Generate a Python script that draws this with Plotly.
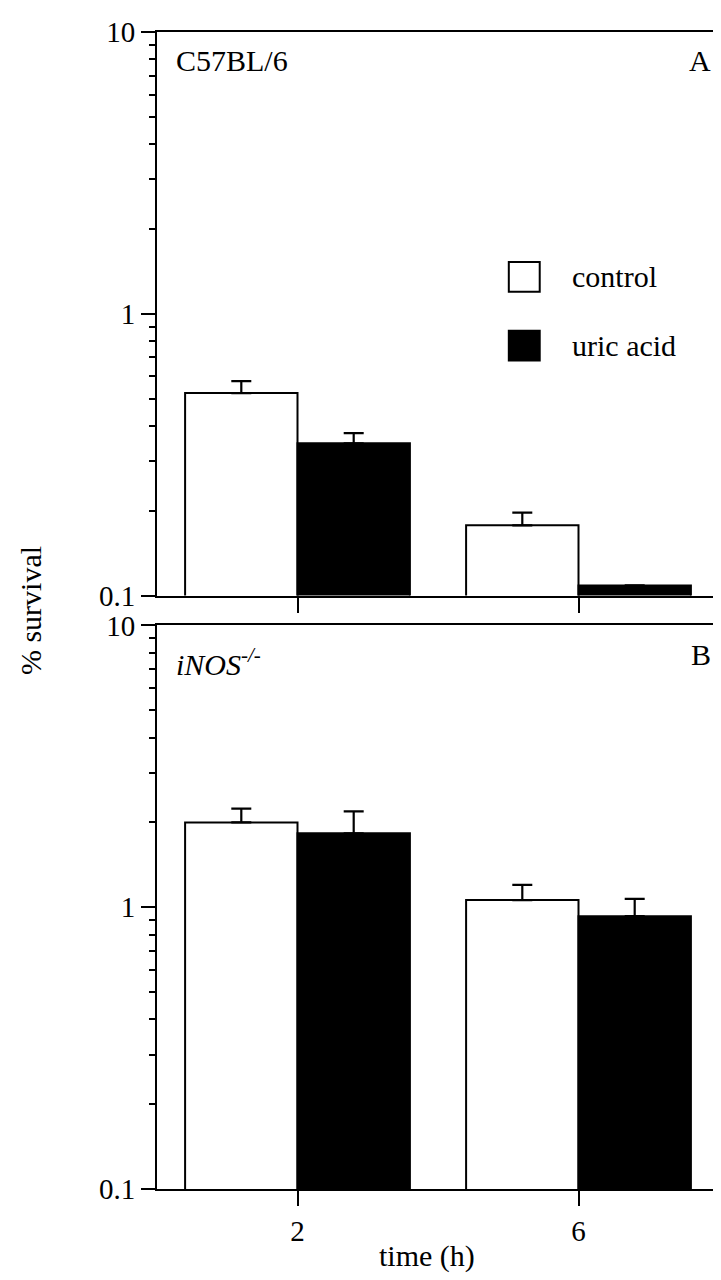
import plotly.graph_objects as go

# ---- data ----
times = [2, 6]
tick_labels_x = ["2", "6"]

# Panel A: C57BL/6
a_control = [0.523, 0.1775]
a_control_upper = [0.577, 0.197]
a_uric = [0.347, 0.1086]
a_uric_upper = [0.377, 0.1086]

# Panel B: iNOS-/-
b_control = [2.0, 1.06]
b_control_upper = [2.24, 1.20]
b_uric = [1.83, 0.93]
b_uric_upper = [2.19, 1.07]

y_tickvals = [0.1, 1, 10]
y_ticktext = ["0.1", "1", "10"]
y_minor = [0.2, 0.3, 0.4, 0.5, 0.6, 0.7, 0.8, 0.9, 2, 3, 4, 5, 6, 7, 8, 9]

FONT = "Liberation Serif"
TICKFONT = 29
TEXTFONT = 30


def err(upper, mean):
    return [u - m for u, m in zip(upper, mean)]


def bars(mean, upper, fill, name, xa, ya):
    return go.Bar(
        x=times, y=mean, name=name, xaxis=xa, yaxis=ya,
        marker=dict(color=fill, line=dict(color="black", width=2)),
        error_y=dict(type="data", symmetric=False, array=err(upper, mean),
                     arrayminus=[0] * len(mean), color="black", thickness=2.2, width=10),
        showlegend=False,
    )


fig = go.Figure()
fig.add_trace(bars(a_control, a_control_upper, "white", "control", "x", "y"))
fig.add_trace(bars(a_uric, a_uric_upper, "black", "uric acid", "x", "y"))
fig.add_trace(bars(b_control, b_control_upper, "white", "control", "x2", "y2"))
fig.add_trace(bars(b_uric, b_uric_upper, "black", "uric acid", "x2", "y2"))

common_y = dict(
    type="log", range=[-1, 1], tickvals=y_tickvals, ticktext=y_ticktext,
    ticks="outside", ticklen=14, tickwidth=2, tickcolor="black",
    showline=True, linewidth=2, linecolor="black", mirror=True,
    showgrid=False, zeroline=False,
    tickfont=dict(family=FONT, size=TICKFONT, color="black"),
    minor=dict(tickvals=y_minor, ticks="outside", ticklen=6, tickwidth=1.5,
               tickcolor="black", showgrid=False),
)
common_x = dict(
    range=[0, 8], tickvals=times, ticktext=tick_labels_x,
    ticks="outside", ticklen=15, tickwidth=2, tickcolor="black",
    showline=True, linewidth=2, linecolor="black", mirror=True,
    showgrid=False, zeroline=False,
    tickfont=dict(family=FONT, size=TICKFONT, color="black"),
)

dA = 594 / 1158
dB = 564 / 1158

fig.update_layout(
    width=721, height=1280,
    margin=dict(l=149, r=8, t=23, b=99),
    paper_bgcolor="white", plot_bgcolor="white",
    barmode="group", bargap=0.2, bargroupgap=0,
    font=dict(family=FONT, color="black"),
    xaxis=dict(common_x, anchor="y", showticklabels=False),
    yaxis=dict(common_y, anchor="x", domain=[dA, 1]),
    xaxis2=dict(common_x, anchor="y2"),
    yaxis2=dict(common_y, anchor="x2", domain=[0, dB]),
)

# legend (drawn in panel A)
fig.add_shape(type="rect", xref="x domain", yref="y domain",
              x0=0.626, x1=0.681, y0=0.539, y1=0.592,
              line=dict(color="black", width=2), fillcolor="white")
fig.add_shape(type="rect", xref="x domain", yref="y domain",
              x0=0.626, x1=0.681, y0=0.417, y1=0.470,
              line=dict(color="black", width=2), fillcolor="black")

ann = [
    dict(text="control", xref="x domain", yref="y domain", x=0.734, y=0.566,
         xanchor="left", yanchor="middle"),
    dict(text="uric acid", xref="x domain", yref="y domain", x=0.734, y=0.443,
         xanchor="left", yanchor="middle"),
    dict(text="C57BL/6", xref="x domain", yref="y domain", x=0.03, y=0.949,
         xanchor="left", yanchor="middle"),
    dict(text="A", xref="x domain", yref="y domain", x=0.99, y=0.949,
         xanchor="right", yanchor="middle"),
    dict(text="<i>iNOS<sup>-/-</sup></i>", xref="x2 domain", yref="y2 domain", x=0.03, y=0.935,
         xanchor="left", yanchor="middle"),
    dict(text="B", xref="x2 domain", yref="y2 domain", x=0.99, y=0.949,
         xanchor="right", yanchor="middle"),
    dict(text="% survival", xref="paper", yref="paper", x=-0.225, y=0.5,
         textangle=-90, xanchor="center", yanchor="middle"),
    dict(text="time (h)", xref="paper", yref="paper", x=0.48, y=-0.058,
         xanchor="center", yanchor="middle"),
]
for a in ann:
    a.update(showarrow=False, font=dict(family=FONT, size=TEXTFONT, color="black"))
    fig.add_annotation(**a)

fig.write_html("out.html")
